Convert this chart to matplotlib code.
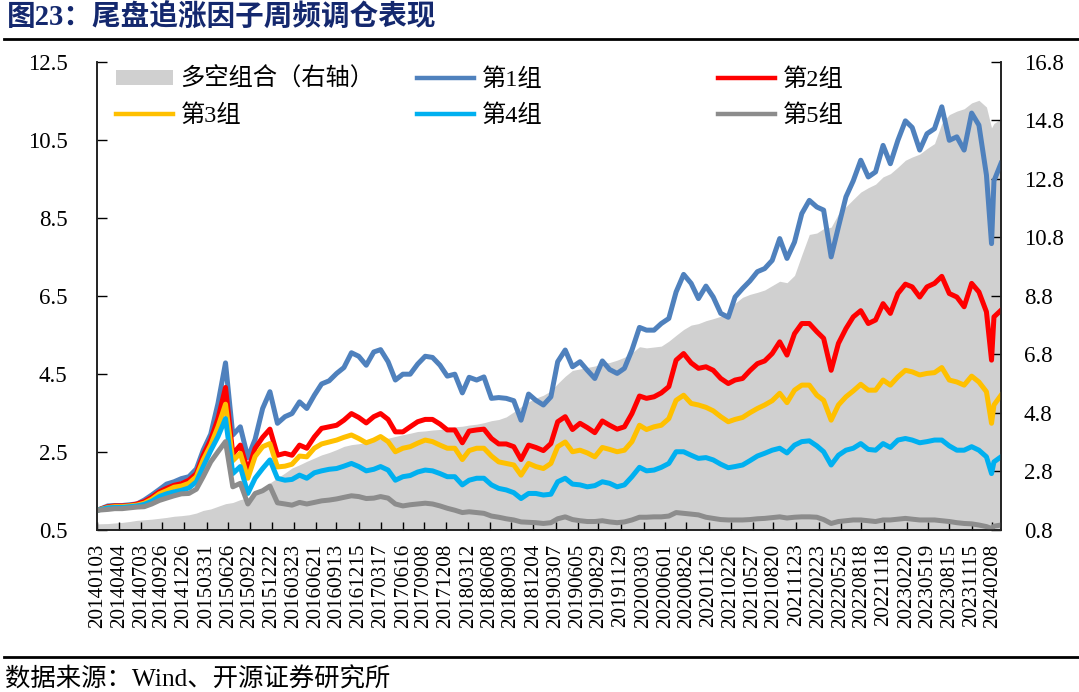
import numpy as np
import pandas as pd
import matplotlib
matplotlib.use("Agg")
import matplotlib.pyplot as plt
from matplotlib.lines import Line2D
from matplotlib.patches import Patch

plt.rcParams['font.family'] = ['Liberation Serif', 'Noto Sans CJK SC']
plt.rcParams['axes.unicode_minus'] = False

title = "图23：尾盘追涨因子周频调仓表现"
source = "数据来源：Wind、开源证券研究所"

series_names = ["多空组合（右轴）", "第1组", "第2组", "第3组", "第4组", "第5组"]

tick_labels = ["20140103", "20140404", "20140703", "20140926", "20141226", "20150331",
               "20150626", "20150922", "20151222", "20160323", "20160621", "20160913",
               "20161215", "20170317", "20170616", "20170908", "20171208", "20180312",
               "20180608", "20180903", "20181204", "20190307", "20190605", "20190829",
               "20191129", "20200303", "20200601", "20200826", "20201126", "20210226",
               "20210527", "20210820", "20211123", "20220223", "20220525", "20220818",
               "20221118", "20230220", "20230519", "20230815", "20231115", "20240208"]

# sample dates: start, mid-month Feb 2014 .. Jan 2024, then early-Feb 2024 dip, Feb, Mar 2024
monthly = pd.date_range("2014-02-01", "2024-01-01", freq="MS") + pd.Timedelta(days=14)
dates = (pd.to_datetime(["2014-01-03"]).append(monthly)
         .append(pd.to_datetime(["2024-02-05", "2024-02-15", "2024-03-15"])))

group1 = [1.00, 1.11, 1.12, 1.12, 1.14, 1.16, 1.26, 1.39, 1.53, 1.67, 1.73, 1.81,
          1.86, 2.06, 2.54, 2.95, 3.74, 4.78, 2.93, 3.14, 2.35, 2.82, 3.61, 4.04,
          3.23, 3.40, 3.48, 3.78, 3.61, 3.95, 4.24, 4.32, 4.51, 4.66, 5.04, 4.95,
          4.72, 5.06, 5.12, 4.81, 4.34, 4.49, 4.49, 4.75, 4.95, 4.92, 4.72, 4.44,
          4.49, 4.01, 4.41, 4.34, 4.42, 3.87, 3.89, 3.87, 3.81, 3.31, 3.98, 3.82,
          3.70, 3.91, 4.81, 5.11, 4.68, 4.81, 4.59, 4.38, 4.83, 4.61, 4.51, 4.64,
          5.11, 5.69, 5.62, 5.62, 5.79, 5.92, 6.60, 7.05, 6.82, 6.43, 6.75, 6.47,
          6.05, 5.95, 6.47, 6.69, 6.88, 7.12, 7.20, 7.41, 7.97, 7.46, 7.88, 8.61,
          8.95, 8.78, 8.70, 7.50, 8.27, 9.04, 9.45, 9.98, 9.55, 9.68, 10.36, 9.89,
          10.49, 10.99, 10.82, 10.24, 10.66, 10.79, 11.35, 10.49, 10.58, 10.24, 11.19, 10.88,
          9.60, 7.84, 9.45, 9.90]

group2 = [1.00, 1.09, 1.11, 1.11, 1.12, 1.16, 1.22, 1.33, 1.47, 1.56, 1.64, 1.68,
          1.77, 1.94, 2.41, 2.81, 3.35, 4.15, 2.44, 2.67, 2.01, 2.59, 2.87, 3.08,
          2.41, 2.46, 2.41, 2.67, 2.59, 2.88, 3.10, 3.14, 3.18, 3.31, 3.48, 3.38,
          3.24, 3.40, 3.48, 3.33, 3.01, 3.01, 3.14, 3.27, 3.33, 3.33, 3.21, 3.06,
          3.06, 2.73, 3.03, 3.06, 3.08, 2.84, 2.70, 2.70, 2.63, 2.30, 2.67, 2.61,
          2.53, 2.71, 3.27, 3.40, 3.07, 3.23, 3.12, 2.99, 3.29, 3.18, 3.08, 3.14,
          3.48, 3.93, 3.87, 3.91, 4.01, 4.17, 4.85, 5.02, 4.78, 4.64, 4.68, 4.59,
          4.38, 4.25, 4.34, 4.38, 4.58, 4.76, 4.83, 5.02, 5.32, 4.98, 5.53, 5.79,
          5.79, 5.58, 5.41, 4.59, 5.28, 5.66, 5.96, 6.12, 5.79, 5.88, 6.30, 6.05,
          6.56, 6.80, 6.73, 6.47, 6.73, 6.82, 7.00, 6.56, 6.47, 6.22, 6.82, 6.60,
          6.09, 4.85, 5.96, 6.13]

group3 = [1.00, 1.07, 1.09, 1.09, 1.11, 1.13, 1.18, 1.28, 1.42, 1.50, 1.59, 1.62,
          1.69, 1.86, 2.29, 2.67, 3.14, 3.72, 2.27, 2.46, 1.82, 2.38, 2.63, 2.71,
          2.11, 2.13, 2.18, 2.39, 2.37, 2.59, 2.70, 2.75, 2.80, 2.87, 2.93, 2.84,
          2.73, 2.80, 2.89, 2.76, 2.50, 2.59, 2.63, 2.72, 2.80, 2.76, 2.67, 2.59,
          2.59, 2.30, 2.53, 2.59, 2.59, 2.39, 2.24, 2.20, 2.16, 1.90, 2.20, 2.12,
          2.07, 2.20, 2.63, 2.75, 2.50, 2.54, 2.47, 2.37, 2.61, 2.56, 2.50, 2.54,
          2.76, 3.18, 3.07, 3.14, 3.18, 3.35, 3.82, 3.95, 3.74, 3.70, 3.64, 3.55,
          3.40, 3.27, 3.33, 3.38, 3.50, 3.61, 3.70, 3.81, 4.00, 3.76, 4.08, 4.21,
          4.21, 3.95, 3.82, 3.31, 3.70, 3.91, 4.06, 4.23, 4.08, 4.08, 4.34, 4.21,
          4.42, 4.59, 4.55, 4.47, 4.51, 4.53, 4.66, 4.34, 4.29, 4.21, 4.44, 4.29,
          4.04, 3.23, 3.70, 3.95]

group4 = [1.00, 1.06, 1.07, 1.07, 1.09, 1.11, 1.15, 1.23, 1.35, 1.42, 1.47, 1.51,
          1.57, 1.73, 2.12, 2.53, 2.89, 3.35, 1.94, 2.12, 1.43, 1.82, 2.07, 2.29,
          1.82, 1.77, 1.79, 1.90, 1.82, 1.96, 2.01, 2.05, 2.07, 2.13, 2.20, 2.12,
          2.01, 2.05, 2.12, 2.03, 1.77, 1.86, 1.89, 1.98, 2.03, 2.01, 1.94, 1.86,
          1.86, 1.65, 1.77, 1.82, 1.82, 1.65, 1.56, 1.52, 1.45, 1.30, 1.43, 1.43,
          1.39, 1.41, 1.73, 1.82, 1.67, 1.65, 1.60, 1.63, 1.73, 1.69, 1.60, 1.65,
          1.86, 2.10, 2.01, 2.03, 2.10, 2.20, 2.50, 2.50, 2.41, 2.33, 2.35, 2.29,
          2.18, 2.09, 2.12, 2.16, 2.27, 2.39, 2.46, 2.54, 2.59, 2.47, 2.67, 2.76,
          2.78, 2.65, 2.50, 2.16, 2.41, 2.54, 2.59, 2.71, 2.56, 2.54, 2.71, 2.61,
          2.80, 2.84, 2.80, 2.73, 2.76, 2.80, 2.80, 2.65, 2.54, 2.54, 2.63, 2.54,
          2.37, 1.94, 2.24, 2.37]

group5 = [1.00, 1.02, 1.04, 1.04, 1.06, 1.08, 1.09, 1.16, 1.25, 1.31, 1.37, 1.42,
          1.43, 1.54, 1.86, 2.24, 2.50, 2.76, 1.60, 1.69, 1.16, 1.43, 1.50, 1.62,
          1.19, 1.16, 1.13, 1.20, 1.16, 1.20, 1.24, 1.26, 1.29, 1.33, 1.37, 1.35,
          1.30, 1.31, 1.35, 1.31, 1.16, 1.11, 1.14, 1.16, 1.18, 1.16, 1.11, 1.05,
          1.00, 0.94, 0.96, 0.94, 0.92, 0.85, 0.82, 0.78, 0.75, 0.70, 0.69, 0.68,
          0.66, 0.68, 0.78, 0.83, 0.76, 0.73, 0.71, 0.71, 0.73, 0.70, 0.68, 0.70,
          0.75, 0.82, 0.82, 0.83, 0.83, 0.85, 0.94, 0.92, 0.90, 0.88, 0.82, 0.79,
          0.76, 0.75, 0.75, 0.75, 0.76, 0.78, 0.79, 0.81, 0.83, 0.80, 0.82, 0.83,
          0.83, 0.82, 0.76, 0.66, 0.71, 0.73, 0.75, 0.75, 0.73, 0.71, 0.75, 0.75,
          0.77, 0.79, 0.77, 0.75, 0.75, 0.75, 0.73, 0.71, 0.68, 0.66, 0.65, 0.62,
          0.58, 0.53, 0.59, 0.62]

long_short = [1.00, 1.01, 1.03, 1.05, 1.08, 1.12, 1.14, 1.16, 1.19, 1.22, 1.26, 1.28,
              1.31, 1.37, 1.46, 1.51, 1.60, 1.69, 1.73, 1.83, 1.88, 2.00, 2.17, 2.40,
              2.57, 2.74, 2.91, 3.02, 3.14, 3.25, 3.36, 3.44, 3.54, 3.65, 3.71, 3.74,
              3.79, 3.85, 3.90, 3.93, 3.99, 4.05, 4.10, 4.16, 4.18, 4.21, 4.23, 4.26,
              4.32, 4.34, 4.38, 4.41, 4.46, 4.53, 4.57, 4.66, 4.83, 5.01, 5.18, 5.30,
              5.40, 5.55, 5.80, 6.05, 6.25, 6.30, 6.35, 6.40, 6.49, 6.52, 6.60, 6.70,
              6.85, 7.06, 7.02, 7.05, 7.08, 7.25, 7.45, 7.65, 7.80, 7.85, 7.95, 8.02,
              8.10, 8.25, 8.55, 8.75, 8.85, 8.92, 9.00, 9.15, 9.30, 9.25, 9.50, 10.20,
              10.90, 10.95, 11.10, 11.15, 11.60, 11.85, 12.10, 12.35, 12.50, 12.62, 12.87, 12.98,
              13.20, 13.44, 13.55, 13.65, 13.84, 14.01, 14.70, 15.00, 15.12, 15.20, 15.40, 15.49,
              15.26, 14.55, 14.70, 14.85]

for s in (group1, group2, group3, group4, group5, long_short):
    assert len(s) == len(dates), (len(s), len(dates))

colors = {"area": "#D0D0D0", "g1": "#4F81BD", "g2": "#FF0000", "g3": "#FFC000",
          "g4": "#00B0F0", "g5": "#8C8C8C"}

W, H = 1079, 692
fig = plt.figure(figsize=(W / 100, H / 100), dpi=100)
ax1 = fig.add_axes([97.4 / W, (H - 529.7) / H, (1001 - 97.4) / W, (529.7 - 62) / H])
ax2 = ax1.twinx()

ax2.fill_between(dates, 0.8, long_short, color=colors["area"], lw=0)
ax1.set_zorder(ax2.get_zorder() + 1)
ax1.patch.set_visible(False)

lw = 3.6
for vals, key in ((group1, "g1"), (group2, "g2"), (group3, "g3"), (group4, "g4"), (group5, "g5")):
    ax1.plot(dates, vals, color=colors[key], lw=lw, solid_joinstyle="round")

ax1.set_xlim(dates[0], dates[-1])
ax1.set_ylim(0.5, 12.5)
ax2.set_ylim(0.8, 16.8)
ax1.set_yticks(np.arange(0.5, 12.51, 2.0))
ax1.set_yticklabels([f"{v:.1f}" for v in np.arange(0.5, 12.51, 2.0)])
ax2.set_yticks(np.arange(0.8, 16.81, 2.0))
ax2.set_yticklabels([f"{v:.1f}" for v in np.arange(0.8, 16.81, 2.0)])

ax1.set_xticks(pd.to_datetime(tick_labels, format="%Y%m%d"))
ax1.set_xticklabels(tick_labels, rotation=90)

ax1.tick_params(axis="x", direction="in", length=6, width=1, pad=10, labelsize=15.2)
ax1.tick_params(axis="y", direction="in", length=7, width=1, pad=21.5, labelsize=16.5)
ax2.tick_params(axis="y", direction="in", length=7, width=1, pad=16.5, labelsize=16.5)

for ax in (ax1, ax2):
    ax.spines["top"].set_visible(False)
    for sp in ("left", "right", "bottom"):
        ax.spines[sp].set_linewidth(1.2)
        ax.spines[sp].set_color("#222222")

# legend: three columns, two rows
handles = {
    "area": Patch(facecolor=colors["area"], edgecolor="none"),
    "g1": Line2D([], [], color=colors["g1"], lw=3.2),
    "g2": Line2D([], [], color=colors["g2"], lw=3.2),
    "g3": Line2D([], [], color=colors["g3"], lw=3.2),
    "g4": Line2D([], [], color=colors["g4"], lw=3.2),
    "g5": Line2D([], [], color=colors["g5"], lw=3.2),
}
columns = [(("area", series_names[0]), ("g3", series_names[3]), 116),
           (("g1", series_names[1]), ("g4", series_names[4]), 417),
           (("g2", series_names[2]), ("g5", series_names[5]), 718)]
for top, bot, xpx in columns:
    fig.legend([handles[top[0]], handles[bot[0]]], [top[1], bot[1]],
               loc="center left", bbox_to_anchor=(xpx / W, 1 - 97.5 / H),
               frameon=False, borderpad=0, borderaxespad=0, handlelength=2.35,
               handletextpad=0.3, labelspacing=0.55, fontsize=17.5, handleheight=0.55)

fig.text(7 / W, 1 - 18 / H, title, fontsize=20.6, fontweight="bold", color="#14286E",
         ha="left", va="center")
fig.add_artist(Line2D([4 / W, 1.0], [1 - 39 / H] * 2, lw=2, color="black"))
fig.add_artist(Line2D([4 / W, 1.0], [1 - 656.5 / H] * 2, lw=2, color="black"))
fig.text(5 / W, 1 - 680 / H, source, fontsize=18.3, color="black", ha="left", va="center")

fig.savefig("out.png", dpi=100)
